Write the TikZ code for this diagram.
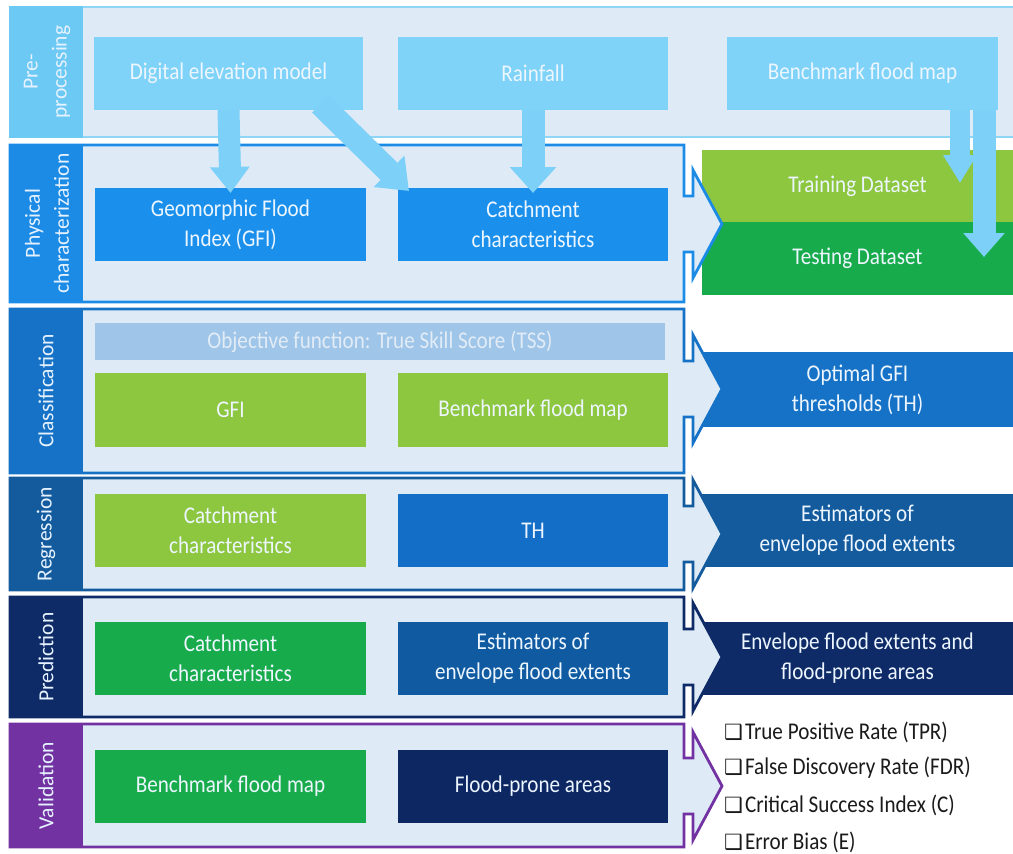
\documentclass[tikz,border=0pt]{standalone}
\usepackage{fontspec}
\setmainfont{Carlito}
\newfontfamily\bxf{Carlito}[FakeStretch=0.88]
\newfontfamily\symf{DejaVu Sans}
\usetikzlibrary{arrows.meta}
\definecolor{panel}{HTML}{DEEBF7}
\definecolor{prebord}{HTML}{8FD5F5}
\definecolor{prestrip}{HTML}{6CC9F4}
\definecolor{prebox}{HTML}{7FD3F8}
\definecolor{arrowc}{HTML}{7DD0F7}
\definecolor{phys}{HTML}{1B8BE6}
\definecolor{physbox}{HTML}{1A90EC}
\definecolor{lgreen}{HTML}{8DC63F}
\definecolor{dgreen}{HTML}{18AB4B}
\definecolor{cls}{HTML}{1672C6}
\definecolor{tss}{HTML}{9FC5E8}
\definecolor{reg}{HTML}{145B9E}
\definecolor{thbox}{HTML}{136EC8}
\definecolor{estmid}{HTML}{0F5AA0}
\definecolor{pred}{HTML}{0E2B67}
\definecolor{navy}{HTML}{0D2763}
\definecolor{val}{HTML}{7232A2}
\definecolor{boxtext}{HTML}{EDF6FF}
\definecolor{labtext}{HTML}{E6F2FF}
\definecolor{tsstext}{HTML}{E2ECF7}
\definecolor{listtext}{HTML}{1A1A1A}
\newcommand\chevpanel[4]{%
  \draw[line width=2.8pt, draw=#4, fill=panel, line join=miter]
    (10,#1) -- (684,#1) -- (684,#3-28) -- (693,#3-28) -- (693,#3-54) -- (722,#3)
    -- (693,#3+54) -- (693,#3+28) -- (684,#3+28) -- (684,#2) -- (10,#2) -- cycle;
  \fill[#4] (8.6,#1-1.4) rectangle (83,#2+1.4);
}
\newcommand\chk{{\symf\fontsize{21}{24}\selectfont ❑}\hspace{2pt}}
\begin{document}
\begin{tikzpicture}[x=1pt,y=-1pt,
  box/.style={inner sep=0pt, outer sep=0pt, text=boxtext, align=center,
    font=\bxf\fontsize{24}{30}\selectfont, minimum height=73pt},
  lcol/.style={box, minimum width=271pt},
  mcol/.style={box, minimum width=270pt},
  rcol/.style={box, minimum width=311pt},
  lab/.style={rotate=90, text=labtext, align=center, inner sep=0pt,
    font=\fontsize{21.5}{29}\selectfont},
  barrow/.style={draw=arrowc, line width=22pt, -{Triangle[length=26pt,width=38pt]}},
  item/.style={anchor=west, inner sep=0pt, text=listtext,
    font=\bxf\fontsize{24}{30}\selectfont}
]
\useasboundingbox[fill=white] (0,0) rectangle (1013,854);

% output boxes (drawn under chevrons)
\node[rcol, fill=lgreen, minimum height=72pt] (train) at (857.5,186) {Training Dataset};
\node[rcol, fill=dgreen] (test) at (857.5,258.5) {Testing Dataset};
\node[rcol, fill=cls, minimum height=75pt] (opt) at (857.5,389.5) {Optimal GFI\\thresholds (TH)};
\node[rcol, fill=reg] (estr) at (857.5,530.5) {Estimators of\\envelope flood extents};
\node[rcol, fill=pred] (env) at (857.5,658.5) {Envelope flood extents and\\flood-prone areas};

% pre-processing row
\draw[line width=2.8pt, draw=prebord, fill=panel] (10,7) rectangle (1016,137);
\fill[prestrip] (8.6,5.6) rectangle (83,138.4);
\node[lab] (lpre) at (47,72) {Pre-\\processing};

% chevron rows
\chevpanel{145}{302}{224}{phys}
\node[lab] (lphys) at (47,223.5) {Physical\\characterization};
\chevpanel{309}{473}{389}{cls}
\node[lab] (lcls) at (46,391) {Classification};
\chevpanel{478}{590}{534}{reg}
\node[lab] (lreg) at (46,534) {Regression};
\chevpanel{597}{717}{657}{pred}
\node[lab] (lpred) at (46,657) {Prediction};
\chevpanel{724}{847}{786}{val}
\node[lab] (lval) at (46,785.5) {Validation};

% pre-processing boxes
\node[box, fill=prebox, minimum width=269pt] (dem) at (228.5,73.5) {Digital elevation model};
\node[mcol, fill=prebox] (rain) at (533,73.5) {Rainfall};
\node[box, fill=prebox, minimum width=271pt] (bench) at (862.5,73.5) {Benchmark flood map};

% physical characterization
\node[lcol, fill=physbox] (gfi) at (230.5,224.5) {Geomorphic Flood\\Index (GFI)};
\node[mcol, fill=physbox] (catch) at (533,224.5) {Catchment\\characteristics};

% classification
\node[box, fill=tss, minimum width=570pt, minimum height=37pt, text=tsstext] (tssbar) at (380,341.5) {Objective function: True Skill Score (TSS)};
\node[lcol, fill=lgreen, minimum height=74pt] (cgfi) at (230.5,410) {GFI};
\node[mcol, fill=lgreen, minimum height=74pt] (cbench) at (533,410) {Benchmark flood map};

% regression
\node[lcol, fill=lgreen] (rcatch) at (230.5,530.5) {Catchment\\characteristics};
\node[mcol, fill=thbox] (rth) at (533,530.5) {TH};

% prediction
\node[lcol, fill=dgreen] (pcatch) at (230.5,658.5) {Catchment\\characteristics};
\node[mcol, fill=estmid] (pest) at (533,658.5) {Estimators of\\envelope flood extents};

% validation
\node[lcol, fill=dgreen] (vbench) at (230.5,786.5) {Benchmark flood map};
\node[mcol, fill=navy] (vflood) at (533,786.5) {Flood-prone areas};

% metrics list
\node[item] (m1) at (724,732) {\chk True Positive Rate (TPR)};
\node[item] (m2) at (724,768) {\chk False Discovery Rate (FDR)};
\node[item] (m3) at (724,805) {\chk Critical Success Index (C)};
\node[item] (m4) at (724,842) {\chk Error Bias (E)};

% block arrows
\draw[barrow] (dem.south) -- ([yshift=-5pt]gfi.north);
\draw[barrow, line width=24pt, -{Triangle[length=28pt,width=42pt]}] ([xshift=92pt,yshift=6pt]dem.south) -- ([xshift=11pt,yshift=-3pt]catch.north west);
\draw[barrow, line width=23pt, -{Triangle[length=26pt,width=45pt]}] (rain.south) -- ([yshift=-5pt]catch.north);
\draw[barrow, line width=20pt, -{Triangle[length=28pt,width=32pt]}] ([xshift=97.5pt]bench.south) -- ([xshift=97.5pt,yshift=3pt]bench.south |- train.center);
\draw[barrow, line width=23pt, -{Triangle[length=24pt,width=40pt]}] ([xshift=121.5pt]bench.south) -- ([xshift=121.5pt,yshift=1.5pt]bench.south |- test.center);
\end{tikzpicture}
\end{document}
